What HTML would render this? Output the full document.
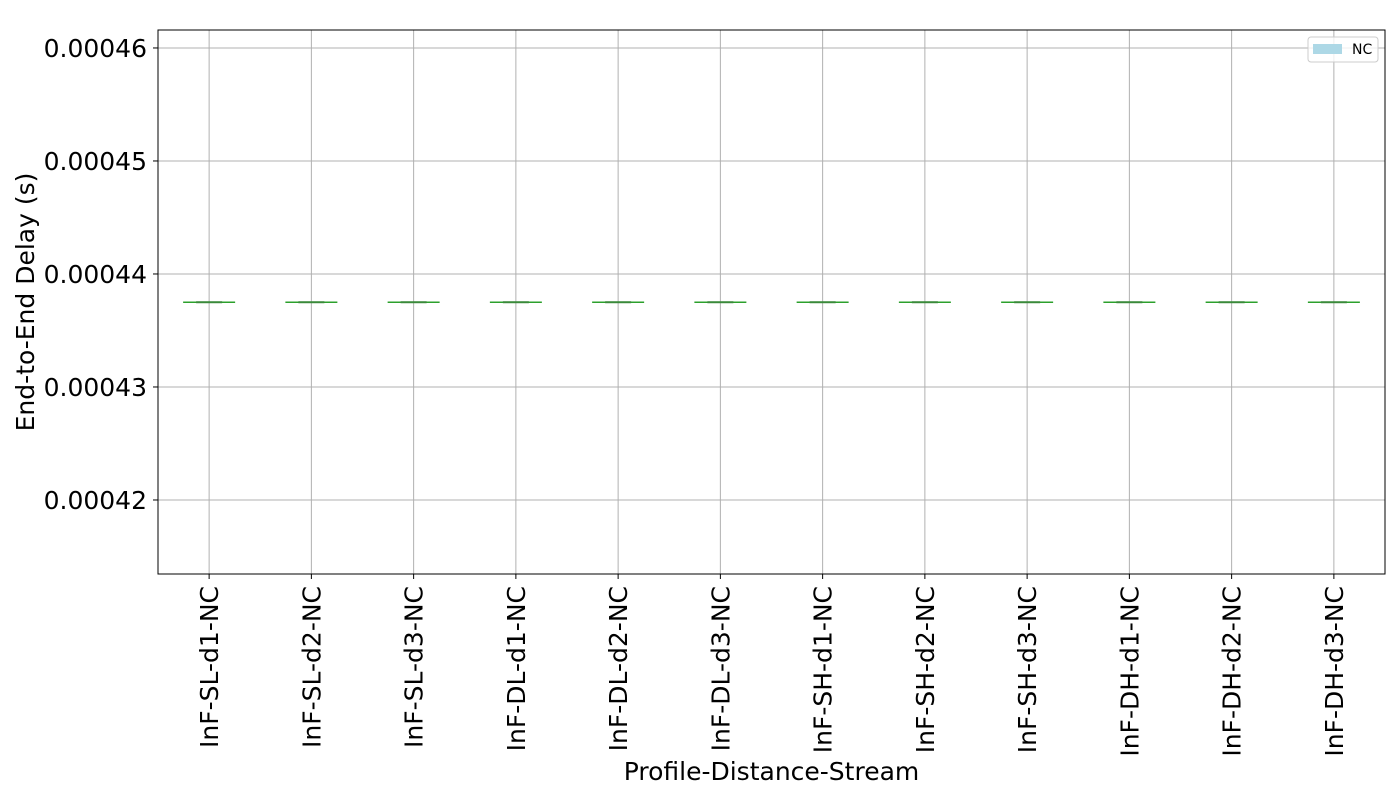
<!DOCTYPE html>
<html><head><meta charset="utf-8"><style>body{margin:0;background:#fff}svg{display:block;font-family:"DejaVu Sans","Liberation Sans",sans-serif}</style></head>
<body>
<svg id="chart" width="1400" height="800"></svg>
<script>
const categories=["InF-SL-d1-NC","InF-SL-d2-NC","InF-SL-d3-NC","InF-DL-d1-NC","InF-DL-d2-NC","InF-DL-d3-NC","InF-SH-d1-NC","InF-SH-d2-NC","InF-SH-d3-NC","InF-DH-d1-NC","InF-DH-d2-NC","InF-DH-d3-NC"];
const medians=[0.0004375,0.0004375,0.0004375,0.0004375,0.0004375,0.0004375,0.0004375,0.0004375,0.0004375,0.0004375,0.0004375,0.0004375];
const yTicks=[0.00042,0.00043,0.00044,0.00045,0.00046];
const yTickLabels=["0.00042","0.00043","0.00044","0.00045","0.00046"];
const NS="http://www.w3.org/2000/svg";
const svg=document.getElementById('chart');
const L=158,R=1385,T=30,B=574,yMin=0.00041345,yMax=0.00046159;
const y=v=>B-(v-yMin)/(yMax-yMin)*(B-T);
const step=(R-L)/categories.length;
const x=i=>L+step*(i+0.5);
function mk(t,a,p){const e=document.createElementNS(NS,t);for(const k in a)e.setAttribute(k,a[k]);(p||svg).appendChild(e);return e;}
const grid=mk('g',{});


yTicks.forEach((v,i)=>{
 mk('line',{x1:L,x2:R,y1:y(v),y2:y(v),stroke:'#b0b0b0','stroke-width':1},grid);
 mk('line',{x1:L-5,x2:L,y1:y(v),y2:y(v),stroke:'#000'},grid);
 const t=mk('text',{x:L-11,y:y(v)+9,'text-anchor':'end','font-size':25},grid);
 t.textContent=yTickLabels[i];
 
 
});
categories.forEach((c,i)=>{
 const cx=x(i);
 mk('line',{x1:cx,x2:cx,y1:T,y2:B,stroke:'#b0b0b0'},grid);
 mk('line',{x1:cx,x2:cx,y1:B,y2:B+5,stroke:'#000'},grid);
 const t=mk('text',{x:0,y:0,'text-anchor':'end','font-size':25,transform:`translate(${cx+9},${B+12}) rotate(-90)`},grid);
 t.textContent=c;
 
 
 const g=mk('g',{});
 
 
 const my=y(medians[i]);
 mk('line',{x1:cx-26,x2:cx+26,y1:my,y2:my,stroke:'#2ca02c','stroke-width':1.5},g);
 mk('rect',{x:cx-13,y:my-1,width:26,height:2,fill:'#3a8a3a'},g);
});
mk('rect',{x:L,y:T,width:R-L,height:B-T,fill:'none',stroke:'#000','stroke-width':1});
const yl=mk('text',{x:0,y:0,'text-anchor':'middle','font-size':25,transform:`translate(34,${(T+B)/2}) rotate(-90)`});
yl.textContent='End-to-End Delay (s)';


const xl=mk('text',{x:(L+R)/2,y:780,'text-anchor':'middle','font-size':25});
xl.textContent='Profile-Distance-Stream';


const lg=mk('g',{});


mk('rect',{x:1308,y:37,width:70,height:25,rx:3,fill:'#fff','fill-opacity':0.8,stroke:'#ccc'},lg);
mk('rect',{x:1313,y:44,width:29,height:10,fill:'#add8e6'},lg);
const lt=mk('text',{x:1352,y:54,'font-size':14},lg);
lt.textContent='NC';


</script>
</body></html>
